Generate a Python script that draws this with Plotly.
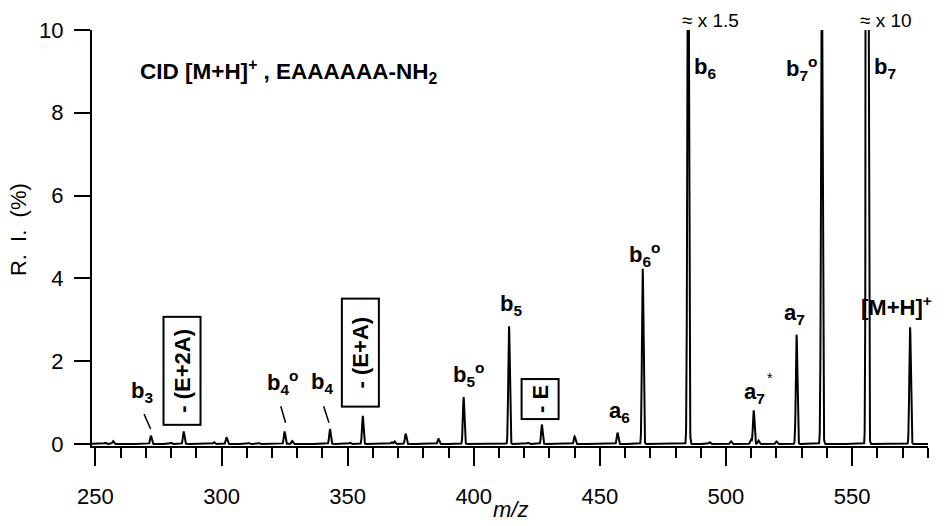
import numpy as np
import plotly.graph_objects as go

# Fragment peaks of the CID spectrum of [M+H]+ (EAAAAAA-NH2)
peak_mz = [254, 257, 272, 280, 285, 297, 302, 311, 315, 325, 328, 343, 351, 356,
           367.5, 368.6, 373, 386, 396, 414, 421.6, 427, 440, 457, 467, 485,
           493.5, 502, 509.9, 511, 512.9, 520, 528, 538, 556, 573]
peak_ri = [0.03, 0.07, 0.20, 0.03, 0.30, 0.04, 0.16, 0.02, 0.02, 0.30, 0.07, 0.36, 0.03, 0.68,
           0.04, 0.06, 0.25, 0.13, 1.13, 2.84, 0.03, 0.47, 0.18, 0.27, 4.23, 15.0,
           0.04, 0.06, 0.10, 0.81, 0.08, 0.06, 2.64, 12.0, 100.0, 2.82]
peak_sigma = 0.3

# m/z axis sampling
mz = np.arange(248.0, 581.0, 0.05)
ri = np.zeros_like(mz)
for c, h in zip(peak_mz, peak_ri):
    ri += h * np.exp(-0.5 * ((mz - c) / peak_sigma) ** 2)

x_ticks = [250, 300, 350, 400, 450, 500, 550]
y_ticks = [0, 2, 4, 6, 8, 10]

FONT = "Liberation Sans, Arial, sans-serif"
LABEL_SIZE = 22

fig = go.Figure()
fig.add_trace(go.Scatter(x=mz, y=ri, mode="lines",
                         line=dict(color="black", width=2),
                         hoverinfo="skip", showlegend=False))

# peak labels: (text, peak m/z, dx, y)
labels = [
    ("b<sub>3</sub>", 272, -3.6, 1.26),
    ("b<sub>4</sub><sup>o</sup>", 325, -0.7, 1.48),
    ("b<sub>4</sub>", 343, -3.3, 1.48),
    ("b<sub>5</sub><sup>o</sup>", 396, 2.1, 1.68),
    ("b<sub>5</sub>", 414, 0.6, 3.36),
    ("a<sub>6</sub>", 457, 0.9, 0.78),
    ("b<sub>6</sub><sup>o</sup>", 467, 0.8, 4.57),
    ("b<sub>6</sub>", 485, 6.5, 9.08),
    ("b<sub>7</sub><sup>o</sup>", 538, -8.0, 9.08),
    ("b<sub>7</sub>", 556, 6.9, 9.08),
    ("a<sub>7</sub>", 511, 0.4, 1.24),
    ("a<sub>7</sub>", 528, -0.7, 3.14),
    ("[M+H]<sup>+</sup>", 573, -5.5, 3.34),
]
for text, pmz, dx, y in labels:
    fig.add_annotation(x=pmz + dx, y=y, text="<b>" + text + "</b>", showarrow=False,
                       font=dict(family=FONT, size=LABEL_SIZE, color="black"),
                       xref="x", yref="y")

# starred label mark for a7*
fig.add_annotation(x=517.3, y=1.6, text="*", showarrow=False,
                   font=dict(family=FONT, size=14, color="black"))

# neutral-loss labels in boxes
boxes = [
    ("\u00a0- (E+2A)\u00a0", 285, -0.6, 1.77),
    ("\u00a0\u00a0- (E+A)\u00a0\u00a0", 356, -0.8, 2.2),
    ("- E", 427, -0.8, 1.08),
]
for text, pmz, dx, y in boxes:
    fig.add_annotation(x=pmz + dx, y=y, text="<b>" + text + "</b>", showarrow=False,
                       textangle=-90, bordercolor="black", borderwidth=2, borderpad=5,
                       bgcolor="white",
                       font=dict(family=FONT, size=LABEL_SIZE, color="black"))

# scale notes above the off-scale peaks
for text, pmz, dx in [("\u2248 x 1.5", 485, 8.9), ("\u2248 x 10", 556, 7.3)]:
    fig.add_annotation(x=pmz + dx, xref="x", y=1.024, yref="paper", yanchor="middle",
                       text=text, showarrow=False,
                       font=dict(family=FONT, size=19, color="black"))

# title note
fig.add_annotation(x=266.8, y=8.99, xanchor="left",
                   text="<b>CID [M+H]<sup>+</sup> , EAAAAAA-NH<sub>2</sub></b>",
                   showarrow=False, font=dict(family=FONT, size=22.5, color="black"))

# leader lines from labels to small peaks
for x0, y0, x1, y1 in [(269.3, 0.72, 271.9, 0.36),
                       (323.5, 0.91, 325.4, 0.51),
                       (340.5, 0.91, 342.6, 0.51)]:
    fig.add_shape(type="line", x0=x0, y0=y0, x1=x1, y1=y1,
                  line=dict(color="black", width=1.5), xref="x", yref="y")

# axis titles
fig.add_annotation(x=0.5, xref="paper", y=-0.153, yref="paper", yanchor="middle",
                   text="<i>m/z</i>", showarrow=False,
                   font=dict(family=FONT, size=22, color="black"))
fig.add_annotation(x=-0.088, xref="paper", y=0.52, yref="paper",
                   xanchor="center", yanchor="middle", textangle=-90,
                   text="R.\u00a0\u00a0I.\u00a0\u00a0(%)", showarrow=False,
                   font=dict(family=FONT, size=22, color="black"))

fig.update_layout(
    width=949, height=526,
    margin=dict(l=92, r=21, t=30, b=80),
    paper_bgcolor="white", plot_bgcolor="white",
    font=dict(family=FONT, size=21, color="black"),
    showlegend=False,
    xaxis=dict(range=[248.65, 580.1], tickmode="array", tickvals=x_ticks,
               ticktext=[str(v) for v in x_ticks],
               ticks="outside", ticklen=18, tickwidth=2, tickcolor="black",
               ticklabelstandoff=12, automargin=False,
               showline=True, linecolor="black", linewidth=2,
               showgrid=False, zeroline=False,
               minor=dict(dtick=10, tick0=250, ticks="outside", ticklen=10,
                          tickwidth=2, tickcolor="black", showgrid=False),
               tickfont=dict(size=22)),
    yaxis=dict(range=[-0.05, 10], tickmode="array", tickvals=y_ticks,
               ticktext=[str(v) for v in y_ticks],
               ticks="outside", ticklen=16, tickwidth=2, tickcolor="black",
               ticklabelstandoff=6, automargin=False,
               showline=True, linecolor="black", linewidth=2,
               showgrid=False, zeroline=False,
               tickfont=dict(size=22)),
)

fig.write_html("out.html")
